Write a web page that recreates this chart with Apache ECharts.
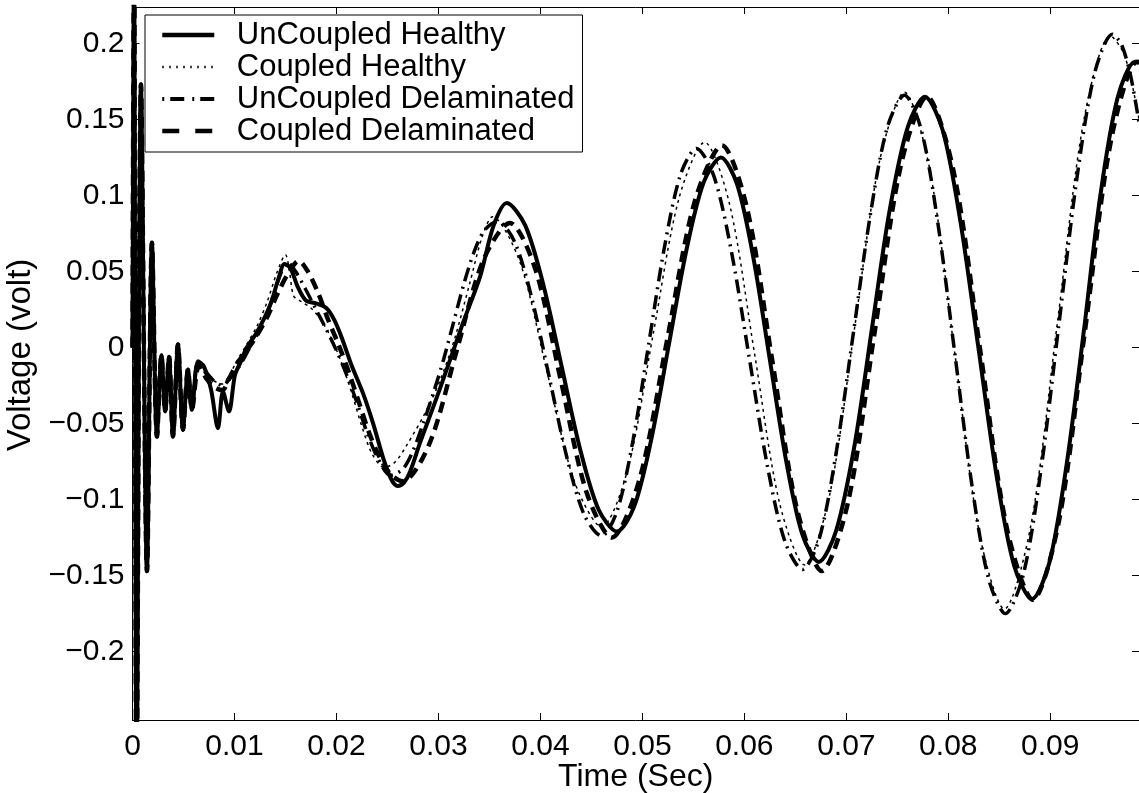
<!DOCTYPE html>
<html><head><meta charset="utf-8">
<script src="https://cdn.jsdelivr.net/npm/echarts@6/dist/echarts.min.js"></script>
<style>html,body{margin:0;padding:0;background:#fff}#c{width:1139px;height:793px}</style>
</head><body><div id="c"></div>
<script>
const seriesNames = ['UnCoupled Healthy', 'Coupled Healthy', 'UnCoupled Delaminated', 'Coupled Delaminated'];
const xTicks = [0, 0.01, 0.02, 0.03, 0.04, 0.05, 0.06, 0.07, 0.08, 0.09];
const yTicks = [-0.2, -0.15, -0.1, -0.05, 0, 0.05, 0.1, 0.15, 0.2];

// shared initial transient (t in s, voltage in V)
const earlyTransient = [
  [0, 0], [0.00015, 0.26], [0.0004, -0.30], [0.00083, 0.173], [0.00142, -0.147],
  [0.00191, 0.069], [0.0024, -0.0585], [0.00284, -0.005], [0.0032, -0.042],
  [0.00358, -0.006], [0.00397, -0.0585], [0.00446, 0.002], [0.00495, -0.054],
  [0.00544, -0.0145], [0.00583, -0.041]
];

const unCoupledHealthy = [
  [0.00642, -0.009], [0.00701, -0.0125], [0.0077, -0.0276], [0.00838, -0.053],
  [0.00887, -0.029], [0.00946, -0.042], [0.01005, -0.018], [0.01064, -0.009],
  [0.0112, 0.0], [0.0122, 0.010], [0.0135, 0.028], [0.0143, 0.045], [0.0149, 0.055],
  [0.0155, 0.052], [0.0162, 0.040], [0.0170, 0.031], [0.0180, 0.029], [0.0190, 0.026],
  [0.0198, 0.018], [0.0206, 0.005], [0.0215, -0.012], [0.0226, -0.030], [0.0236, -0.050],
  [0.0246, -0.073], [0.0254, -0.087], [0.0260, -0.091], [0.0266, -0.089], [0.0272, -0.082],
  [0.0282, -0.0625], [0.0301, -0.028], [0.0324, 0.016], [0.0341, 0.047], [0.0354, 0.080],
  [0.0367, 0.095], [0.0385, 0.0805], [0.0403, 0.041], [0.0421, -0.013], [0.0439, -0.067],
  [0.0457, -0.1065], [0.0475, -0.121], [0.0492, -0.1045], [0.0509, -0.0595], [0.0526, 0.002],
  [0.0543, 0.0635], [0.0560, 0.1085], [0.0577, 0.125], [0.0593, 0.1072], [0.0609, 0.0585],
  [0.0625, -0.008], [0.0641, -0.0745], [0.0657, -0.1232], [0.0673, -0.141], [0.0690, -0.1205],
  [0.0708, -0.0645], [0.0725, 0.012], [0.0742, 0.0885], [0.0760, 0.1445], [0.0777, 0.165],
  [0.07945, 0.1429], [0.0812, 0.0824], [0.08295, 0.0], [0.0847, -0.0829], [0.08645, -0.1434],
  [0.0882, -0.1655], [0.0899, -0.1418], [0.0916, -0.0771], [0.0933, 0.0113], [0.0949, 0.0996],
  [0.0966, 0.1643], [0.0983, 0.188], [0.0987, 0.187]
];

const coupledHealthy = [
  [0.0065, -0.010], [0.0072, -0.018], [0.0080, -0.022], [0.0088, -0.024], [0.0095, -0.018],
  [0.0103, -0.008], [0.0112, 0.002], [0.0122, 0.014], [0.0132, 0.030], [0.0142, 0.050],
  [0.0150, 0.061], [0.0154, 0.050], [0.0158, 0.034], [0.0166, 0.030], [0.0175, 0.026],
  [0.0185, 0.018], [0.0195, 0.006], [0.0205, -0.010], [0.0215, -0.030], [0.0225, -0.052],
  [0.0235, -0.070], [0.0247, -0.079], [0.0258, -0.075], [0.0270, -0.063], [0.0287, -0.043],
  [0.0302, -0.021], [0.0316, 0.006], [0.0331, 0.043], [0.0343, 0.073], [0.0353, 0.086],
  [0.0380, 0.0561], [0.04065, -0.016], [0.04333, -0.0881], [0.046, -0.118], [0.04853, -0.0809],
  [0.05105, 0.0085], [0.05358, 0.0979], [0.0561, 0.135], [0.05855, 0.0943], [0.061, -0.004],
  [0.06345, -0.1023], [0.0659, -0.143], [0.06835, -0.0974], [0.0708, 0.0125], [0.07325, 0.1224],
  [0.0757, 0.168], [0.07815, 0.1182], [0.0806, -0.002], [0.08305, -0.1222], [0.0855, -0.172],
  [0.0881, -0.1168], [0.0907, 0.0165], [0.0933, 0.1498], [0.0959, 0.205], [0.0973, 0.192],
  [0.0987, 0.150]
];

const unCoupledDelaminated = [
  [0.0064, -0.010], [0.0072, -0.016], [0.0080, -0.022], [0.0088, -0.025], [0.0096, -0.020],
  [0.0105, -0.012], [0.0115, 0.0], [0.0125, 0.012], [0.0135, 0.028], [0.0145, 0.048],
  [0.0152, 0.056], [0.016, 0.05], [0.017, 0.038], [0.018, 0.025], [0.019, 0.012], [0.020, -0.002],
  [0.021, -0.018], [0.022, -0.036], [0.023, -0.056], [0.024, -0.072], [0.0253, -0.084],
  [0.0265, -0.080], [0.0275, -0.068], [0.0285, -0.05], [0.0295, -0.03], [0.0305, -0.008],
  [0.0315, 0.017], [0.0325, 0.042], [0.0335, 0.063], [0.0345, 0.077], [0.0358, 0.083],
  [0.0375, 0.0691], [0.0392, 0.0313], [0.0409, -0.0205], [0.0426, -0.0723], [0.0443, -0.1101],
  [0.046, -0.124], [0.04755, -0.1069], [0.0491, -0.0603], [0.05065, 0.0035], [0.0522, 0.0673],
  [0.05375, 0.1139], [0.0553, 0.131], [0.05703, 0.1124], [0.05877, 0.0618], [0.0605, -0.0075],
  [0.06223, -0.0768], [0.06397, -0.1274], [0.0657, -0.146], [0.06737, -0.1251], [0.06903, -0.068],
  [0.0707, 0.01], [0.07237, 0.088], [0.07403, 0.1451], [0.0757, 0.166], [0.07735, 0.1432],
  [0.079, 0.0808], [0.08065, -0.0045], [0.0823, -0.0898], [0.08395, -0.1522], [0.0856, -0.175],
  [0.08735, -0.1495], [0.0891, -0.0798], [0.09085, 0.0155], [0.0926, 0.1108], [0.09435, 0.1805],
  [0.0961, 0.206], [0.0970, 0.199], [0.0979, 0.178], [0.0987, 0.148]
];

const coupledDelaminated = [
  [0.0065, -0.012], [0.0072, -0.020], [0.0080, -0.026], [0.0088, -0.028], [0.0095, -0.020],
  [0.0103, -0.010], [0.0112, -0.002], [0.0122, 0.008], [0.0132, 0.020], [0.0142, 0.035],
  [0.0152, 0.048], [0.0163, 0.057], [0.0172, 0.050], [0.0182, 0.036], [0.0192, 0.018],
  [0.0202, 0.002], [0.0212, -0.016], [0.0222, -0.036], [0.0232, -0.056], [0.0243, -0.073],
  [0.0254, -0.084], [0.0265, -0.088], [0.02913, -0.0631], [0.03175, -0.003], [0.03438, 0.0571],
  [0.037, 0.082], [0.0395, 0.0517], [0.042, -0.0215], [0.0445, -0.0947], [0.047, -0.125],
  [0.0497, -0.0872], [0.0524, 0.004], [0.0551, 0.0952], [0.0578, 0.133], [0.06025, 0.092],
  [0.0627, -0.007], [0.06515, -0.106], [0.0676, -0.147], [0.07018, -0.1013], [0.07275, 0.009],
  [0.07533, 0.1193], [0.0779, 0.165], [0.0805, 0.1165], [0.0831, -0.0005], [0.0857, -0.1175],
  [0.0883, -0.166], [0.09085, -0.1141], [0.0934, 0.011], [0.09595, 0.1361], [0.0985, 0.188],
  [0.0987, 0.1878]
];

const chart = echarts.init(document.getElementById('c'), null, {renderer: 'canvas'});
const FONT = 'Liberation Sans, Arial, Helvetica, sans-serif';
const minus = v => (v < 0 ? '\u2212' + String(-v) : String(v));

function mkSeries(name, data, type, width) {
  return {
    name, type: 'line', data: earlyTransient.concat(data),
    symbol: 'none', showSymbol: false, smooth: 0.3, clip: true,
    lineStyle: {color: '#000', width, type, cap: 'butt'},
    itemStyle: {color: '#000'}, animation: false
  };
}

const axisCommon = {
  axisLine: {show: true, onZero: false, lineStyle: {color: '#000', width: 1}},
  splitLine: {show: false}
};

chart.setOption({
  animation: false,
  backgroundColor: '#fff',
  grid: {left: 132.5, right: 0, top: 7, bottom: 73, containLabel: false, outerBoundsMode: 'none'},
  legend: {
    orient: 'vertical', left: 145, top: 15,
    data: [
      {name: seriesNames[0], lineStyle: {width: 4.5, type: 'solid'}},
      {name: seriesNames[1], lineStyle: {width: 2.5, type: [1.5, 5.5]}},
      {name: seriesNames[2], lineStyle: {width: 4, type: [2, 6, 14, 8]}},
      {name: seriesNames[3], lineStyle: {width: 4.5, type: [17, 16]}}
    ],
    itemWidth: 52, itemHeight: 20, itemGap: 1,
    padding: [4.5, 8, 5.5, 15],
    borderColor: '#000', borderWidth: 1, backgroundColor: '#fff',
    itemStyle: {opacity: 0},
    textStyle: {fontFamily: FONT, fontSize: 31, color: '#000', lineHeight: 31, padding: [0, 0, 0, 17.5]}
  },
  xAxis: [
    Object.assign({}, axisCommon, {
      type: 'value', min: 0, max: 0.0987, position: 'bottom',
      name: 'Time (Sec)', nameLocation: 'middle', nameGap: 41, nameMoveOverlap: false,
      nameTextStyle: {fontFamily: FONT, fontSize: 32, color: '#000'},
      axisTick: {show: true, inside: true, length: 7, customValues: xTicks, lineStyle: {color: '#000'}},
      axisLabel: {show: true, customValues: xTicks, fontFamily: FONT, fontSize: 30, color: '#000', margin: 12,
        formatter: v => minus(v)}
    }),
    Object.assign({}, axisCommon, {
      type: 'value', min: 0, max: 0.0987, position: 'top',
      axisTick: {show: true, inside: true, length: 7, customValues: xTicks, lineStyle: {color: '#000'}},
      axisLabel: {show: false}
    })
  ],
  yAxis: [
    Object.assign({}, axisCommon, {
      type: 'value', min: -0.245, max: 0.224, position: 'left',
      name: 'Voltage (volt)', nameLocation: 'middle', nameGap: 95, nameRotate: 90, nameMoveOverlap: false,
      nameTextStyle: {fontFamily: FONT, fontSize: 33, color: '#000', padding: [0, 0, 0, 17]},
      axisTick: {show: true, inside: true, length: 7, customValues: yTicks, lineStyle: {color: '#000'}},
      axisLabel: {show: true, customValues: yTicks, fontFamily: FONT, fontSize: 30, color: '#000', margin: 8,
        formatter: v => minus(v)}
    }),
    Object.assign({}, axisCommon, {
      type: 'value', min: -0.245, max: 0.224, position: 'right',
      axisTick: {show: true, inside: true, length: 7, customValues: yTicks, lineStyle: {color: '#000'}},
      axisLabel: {show: false}
    })
  ],
  series: [
    mkSeries(seriesNames[0], unCoupledHealthy, 'solid', 4),
    mkSeries(seriesNames[1], coupledHealthy, [3, 4], 1.5),
    mkSeries(seriesNames[2], unCoupledDelaminated, [14, 6, 2, 6], 3.5),
    mkSeries(seriesNames[3], coupledDelaminated, [11, 7], 4.5)
  ]
});
</script>
</body></html>
